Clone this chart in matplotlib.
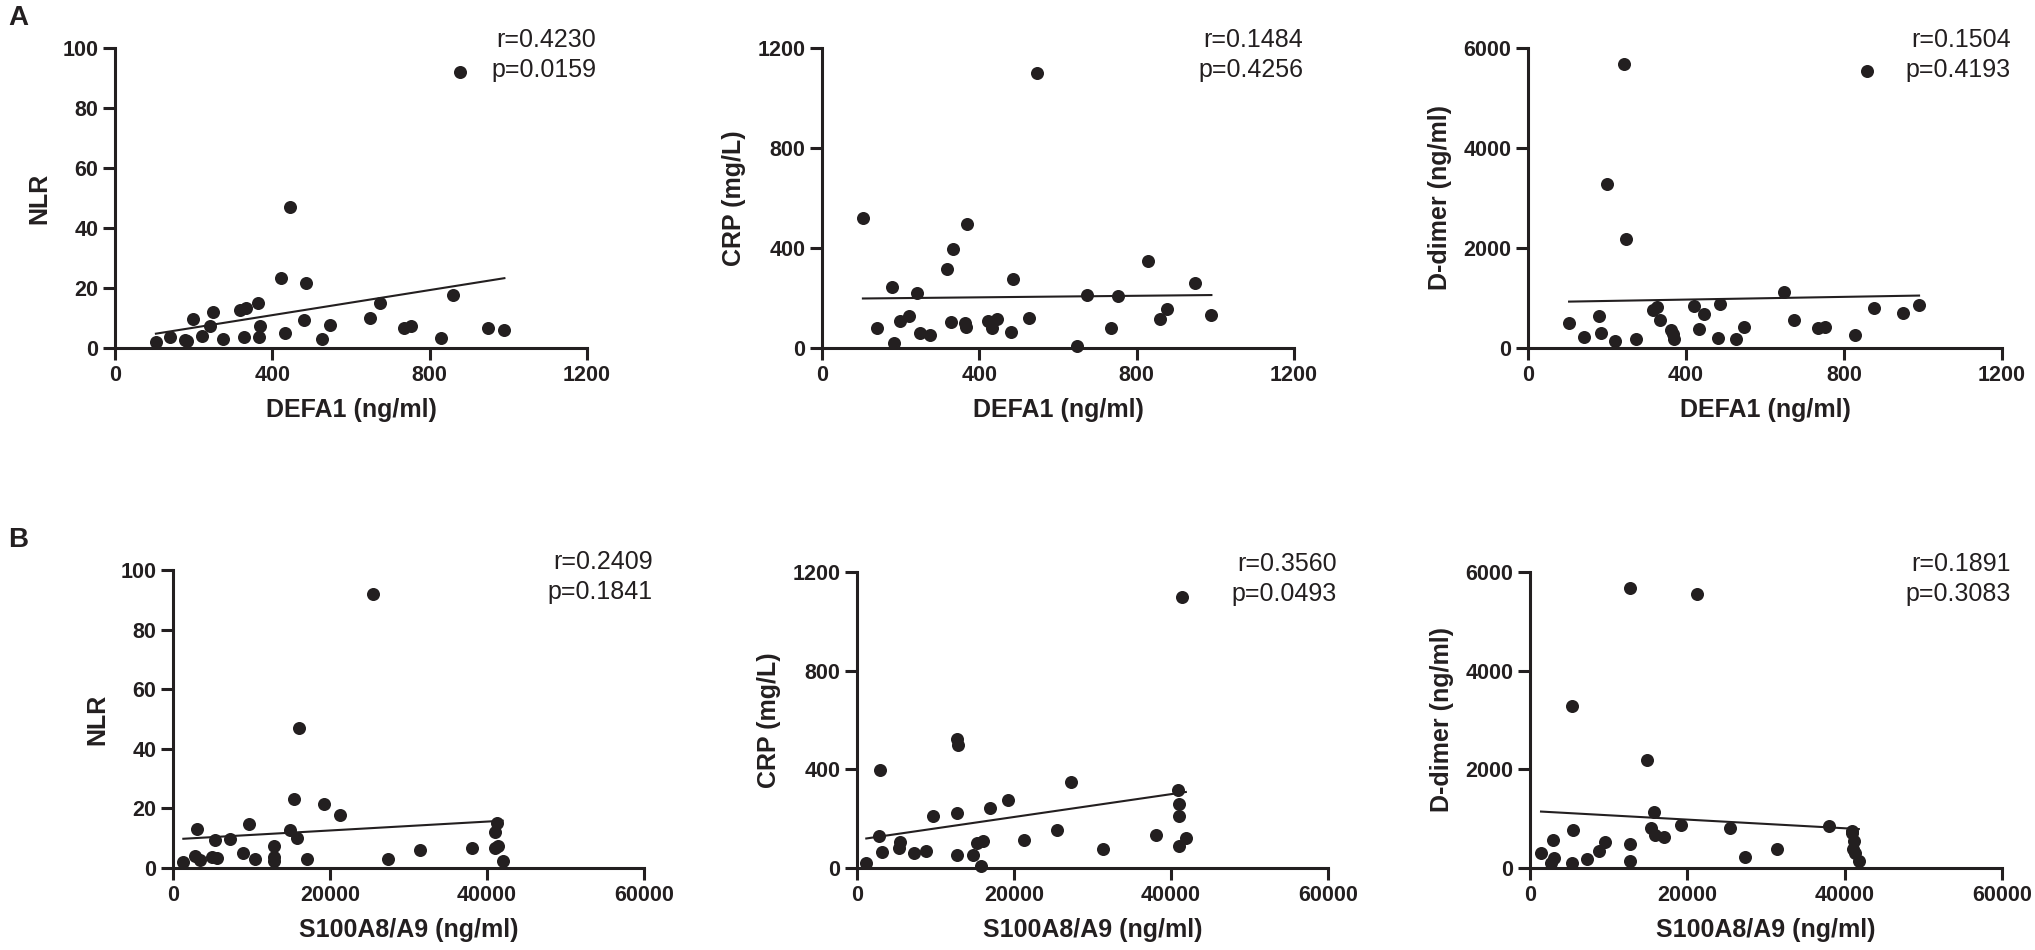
"""Correlation scatter panels (DEFA1 / S100A8/A9 vs NLR, CRP, D-dimer) -> out.png"""

import matplotlib

matplotlib.use("Agg")  # headless
import matplotlib.pyplot as plt
import numpy as np

plt.rcParams["font.family"] = ["Liberation Sans", "DejaVu Sans"]

# --- values -----------------------------------------------------------
# row A: one DEFA1 value per patient, shared by the three panels
defa1 = [104, 141, 179, 184, 199, 221, 242, 249, 274, 317, 327, 333, 363, 366, 369, 421,
         432, 445, 481, 485, 527, 546, 648, 673, 735, 752, 828, 859, 877, 949, 990]
nlr_a = [2.0, 3.6, 2.7, 2.2, 9.6, 4.1, 7.3, 12.1, 3.0, 12.7, 3.6, 13.2, 15.1, 3.6, 7.4, 23.3,
         5.1, 47.1, 9.3, 21.6, 3.0, 7.7, 9.9, 14.9, 6.6, 7.4, 3.2, 17.7, 92.0, 6.8, 6.0]
crp_a = [521, 79, 245, 19, 108, 128, 221, 59, 52, 315, 105, 397, 101, 85, 497, 108,
         79, 115, 65, 275, 121, 1099, 8, 212, 81, 209, 348, 115, 155, 261, 132]
ddimer_a = [493, 227, 647, 307, 3280, 140, 5680, 2180, 180, 760, 820, 560, 360, 280, 170, 840,
            373, 680, 207, 873, 180, 413, 1127, 553, 393, 413, 260, 5547, 807, 693, 860]

# row B
s100_nlr = [25520, 16090, 15415, 19237, 21276, 9682, 3015, 41240, 41023, 14906, 15755, 5351,
            7262, 12906, 8880, 31468, 38054, 41447, 41023, 42000, 27431, 17033, 12867, 12867,
            10487, 5563, 4970, 2803, 3440, 1316]
nlr_b = [92.0, 47.0, 23.3, 21.6, 17.7, 14.9, 13.2, 15.1, 12.1, 12.7, 9.9, 9.3,
         9.6, 7.3, 5.1, 6.0, 6.6, 7.4, 6.8, 2.4, 3.0, 3.0, 3.6, 2.2,
         3.0, 3.2, 3.6, 4.1, 2.7, 2.0]
s100_crp = [41340, 12797, 12853, 2964, 27259, 40908, 19207, 40993, 16956, 12720, 9667, 41078,
            25440, 2752, 38033, 5508, 5296, 21280, 15264, 16108, 41890, 40993, 3180, 7200,
            8815, 31370, 12720, 14832, 15773, 1183]
crp_b = [1099, 521, 497, 397, 348, 315, 275, 261, 245, 221, 209, 212,
         155, 128, 132, 105, 81, 115, 101, 108, 121, 90, 65, 59,
         70, 79, 52, 52, 8, 19]
s100_dd = [12740, 21276, 5300, 14817, 15747, 15415, 15900, 16982, 19237, 25391, 38042, 40895,
           41100, 41300, 41800, 31340, 27300, 12740, 12740, 9593, 8740, 7262, 5427, 5300,
           2880, 3096, 2675, 1401, 40950, 41150]
ddimer_b = [5680, 5547, 3280, 2180, 1127, 816, 668, 621, 873, 807, 860, 702,
            378, 297, 148, 378, 229, 479, 142, 533, 344, 176, 770, 108,
            560, 196, 108, 307, 750, 553]

r_labels = ["r=0.4230", "r=0.1484", "r=0.1504", "r=0.2409", "r=0.3560", "r=0.1891"]
p_labels = ["p=0.0159", "p=0.4256", "p=0.4193", "p=0.1841", "p=0.0493", "p=0.3083"]

INK = "#231f20"
W, H = 2035, 950


def rect(left, right, top, bottom):
    # pixel box -> figure fraction
    return [left / W, 1 - bottom / H, (right - left) / W, (bottom - top) / H]


panels = [
    (defa1, nlr_a, rect(115, 587, 48, 348), 1200, 400, 100, 20, "DEFA1 (ng/ml)", "NLR"),
    (defa1, crp_a, rect(822, 1294, 48, 348), 1200, 400, 1200, 400, "DEFA1 (ng/ml)", "CRP (mg/L)"),
    (defa1, ddimer_a, rect(1528, 2002, 48, 348), 1200, 400, 6000, 2000, "DEFA1 (ng/ml)", "D-dimer (ng/ml)"),
    (s100_nlr, nlr_b, rect(173, 644, 570, 868), 60000, 20000, 100, 20, "S100A8/A9 (ng/ml)", "NLR"),
    (s100_crp, crp_b, rect(857, 1328, 572, 868), 60000, 20000, 1200, 400, "S100A8/A9 (ng/ml)", "CRP (mg/L)"),
    (s100_dd, ddimer_b, rect(1530, 2002, 572, 868), 60000, 20000, 6000, 2000, "S100A8/A9 (ng/ml)", "D-dimer (ng/ml)"),
]

fig = plt.figure(figsize=(W / 100, H / 100), dpi=100)

for i, (xs, ys, box, xmax, xstep, ymax, ystep, xlabel, ylabel) in enumerate(panels):
    ax = fig.add_axes(box)
    x = np.asarray(xs, float)
    y = np.asarray(ys, float)
    ax.scatter(x, y, s=88, color=INK, linewidths=0, clip_on=False, zorder=3)

    # least-squares line over the data range
    slope, icept = np.polyfit(x, y, 1)
    xl = np.array([x.min(), x.max()])
    ax.plot(xl, slope * xl + icept, color=INK, lw=1.5, zorder=2)

    ax.set_xlim(0, xmax)
    ax.set_ylim(0, ymax)
    ax.set_xticks(np.arange(0, xmax + 1, xstep))
    ax.set_yticks(np.arange(0, ymax + 1, ystep))
    ax.tick_params(length=8.6, width=2.2, color=INK, pad=3.5, labelsize=15.5, labelcolor=INK)
    for lab in ax.get_xticklabels() + ax.get_yticklabels():
        lab.set_fontweight("bold")
    for side in ("top", "right"):
        ax.spines[side].set_visible(False)
    for side in ("left", "bottom"):
        ax.spines[side].set_linewidth(2.2)
        ax.spines[side].set_color(INK)
        ax.spines[side].set_capstyle("projecting")
    ax.set_xlabel(xlabel, fontsize=18, fontweight="bold", color=INK, labelpad=9)
    ax.set_ylabel(ylabel, fontsize=18, fontweight="bold", color=INK, labelpad=8)

    w_px = box[2] * W
    h_px = box[3] * H
    ax.text(1 + 9 / w_px, 1 + 8 / h_px, r_labels[i], transform=ax.transAxes,
            ha="right", va="center", fontsize=18, color=INK)
    ax.text(1 + 9 / w_px, 1 - 22 / h_px, p_labels[i], transform=ax.transAxes,
            ha="right", va="center", fontsize=18, color=INK)

fig.text(8 / W, 1 - 18 / H, "A", fontsize=20, fontweight="bold", color=INK, va="center")
fig.text(8 / W, 1 - 540 / H, "B", fontsize=20, fontweight="bold", color=INK, va="center")

fig.savefig("out.png", dpi=100)
plt.close(fig)
